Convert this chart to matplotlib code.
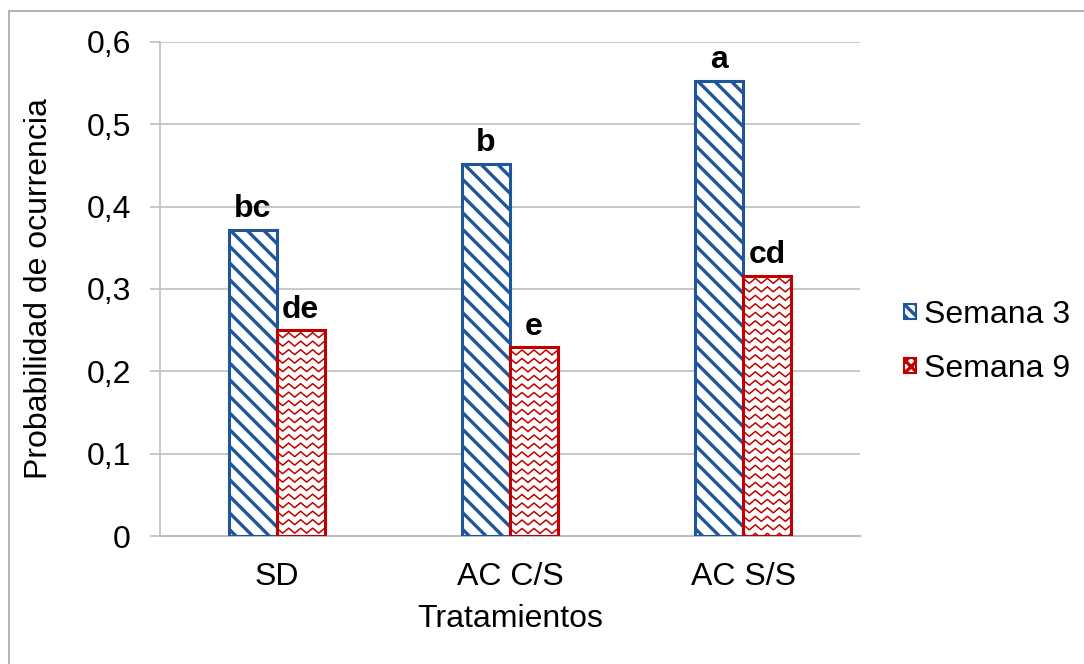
import numpy as np
import matplotlib
matplotlib.use("Agg")
import matplotlib.pyplot as plt
from matplotlib.patches import Patch, Rectangle

# Datos
tratamientos = ["SD", "AC C/S", "AC S/S"]
semana3 = [0.372, 0.452, 0.553]
semana9 = [0.250, 0.229, 0.316]
letras3 = ["bc", "b", "a"]
letras9 = ["de", "e", "cd"]

azul = "#1F569B"
rojo = "#C00000"
gris = "#BFBFBF"
fs = 23

plt.rcParams['font.family'] = ['Liberation Sans', 'DejaVu Sans']
plt.rcParams['hatch.linewidth'] = 2.4

fig = plt.figure(figsize=(10.84, 6.64), dpi=100)
ax = fig.add_axes([160/1084, 128/664, 700/1084, 494/664])

# borde exterior del gráfico
fig.patches.append(Rectangle((9/1084, -0.1), 1.2, 1 - 11/664 + 0.1, transform=fig.transFigure,
                             fill=False, edgecolor="#A6A6A6", linewidth=1.2))

x = np.arange(len(tratamientos))
w = 0.206
b3 = ax.bar(x - w/2, semana3, w, facecolor="white", edgecolor=azul, hatch="\\\\", linewidth=2.2, zorder=3)
b9 = ax.bar(x + w/2, semana9, w, facecolor="white", edgecolor=rojo, linewidth=2.2, zorder=3)

ax.set_xlim(-0.5, 2.5)
ax.set_ylim(0, 0.6)
ax.set_yticks(np.arange(0, 0.61, 0.1))
ax.set_yticklabels(["0" if v == 0 else ("%.1f" % v).replace(".", ",") for v in np.arange(0, 0.61, 0.1)])
ax.set_xticks(x)
ax.set_xticklabels(tratamientos)
ax.tick_params(axis="y", labelsize=fs, length=7, width=1.2, color=gris, pad=14)
ax.tick_params(axis="x", labelsize=fs, length=0, pad=19)
ax.grid(axis="y", color=gris, linewidth=1.2, zorder=0)
for s in ["top", "right"]:
    ax.spines[s].set_visible(False)
ax.spines["left"].set_color(gris)
ax.spines["bottom"].set_color(gris)
ax.spines["left"].set_linewidth(1.2)
ax.spines["bottom"].set_linewidth(1.5)
ax.set_axisbelow(True)

ax.set_ylabel("Probabilidad de ocurrencia", fontsize=fs)
ax.yaxis.set_label_coords(-0.152, 0.5)
ax.set_xlabel("Tratamientos", fontsize=fs, va="top")
ax.xaxis.set_label_coords(0.5, -0.138)

# patrón ondulado de las barras rojas
fig.canvas.draw()
inv = ax.transData.inverted()
for r in b9:
    (x0, y0), (x1, y1) = ax.transData.transform([(r.get_x(), 0), (r.get_x() + r.get_width(), r.get_height())])
    fila = y1 - 5
    while fila > y0:
        px = np.arange(x0 - 6, x1 + 7, 6.0)
        py = fila + np.where(np.arange(len(px)) % 2 == 0, -2.5, 2.5)
        pts = inv.transform(np.column_stack([px, py]))
        ln, = ax.plot(pts[:, 0], pts[:, 1], color=rojo, linewidth=1.1, zorder=4)
        ln.set_clip_path(r)
        fila -= 8.5

# letras de significancia
for bars, letras in [(b3, letras3), (b9, letras9)]:
    for r, l in zip(bars, letras):
        ax.annotate(l, (r.get_x() + r.get_width()/2, r.get_height()), xytext=(0, 4),
                    textcoords="offset points", ha="center", va="bottom",
                    fontsize=fs, fontweight="bold", zorder=5)

handles = [Patch(facecolor="white", edgecolor=azul, hatch="\\\\\\", linewidth=1.5),
           Patch(facecolor="white", edgecolor=rojo, hatch="xxx", linewidth=1.5)]
fig.legend(handles, ["Semana 3", "Semana 9"], loc="center left",
           bbox_to_anchor=(904/1084, 1 - 342/664), frameon=False, fontsize=fs,
           handlelength=0.38, handleheight=0.38, handletextpad=0.25, labelspacing=0.75,
           borderpad=0, borderaxespad=0)

fig.savefig("out.png", dpi=100)
